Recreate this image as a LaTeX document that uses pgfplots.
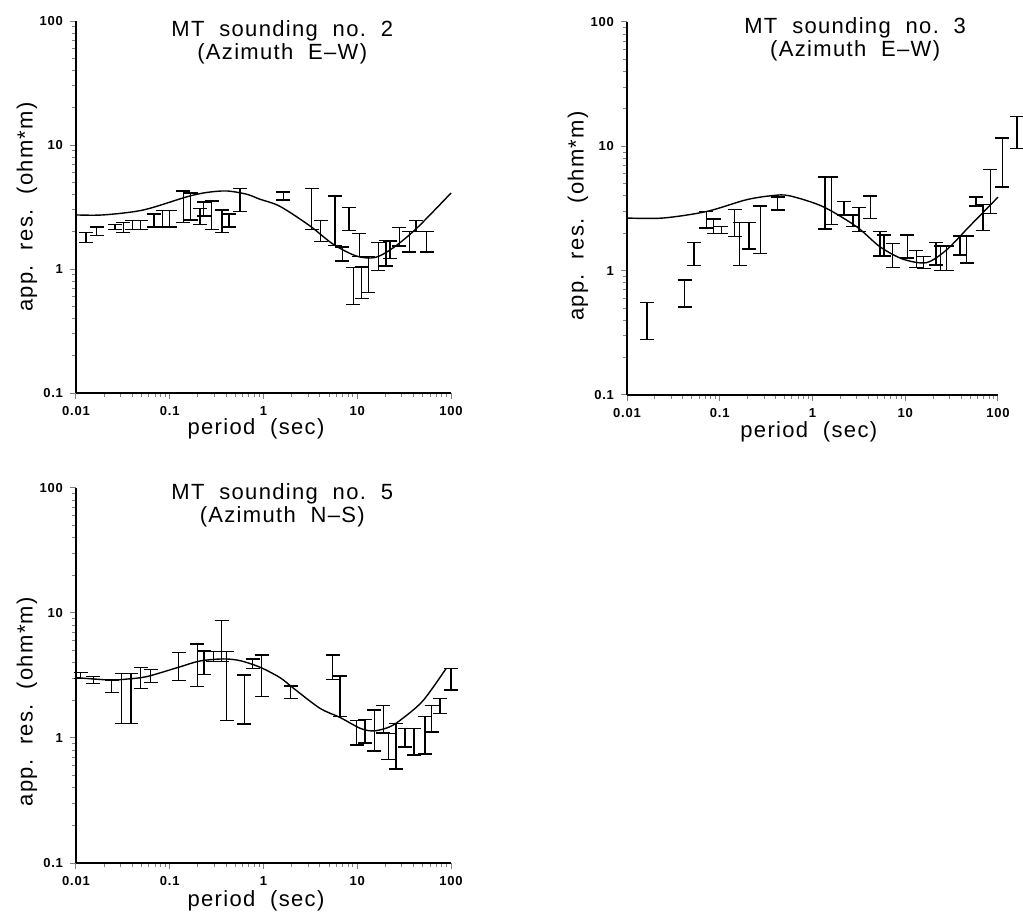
\documentclass[border=0pt]{standalone}
\usepackage{fontspec}
\setmainfont{Liberation Sans}
\newfontfamily\plotfont[LetterSpace=6]{Liberation Sans}
\usepackage{pgfplots}
\usepackage{pgfplotstable}
\pgfplotsset{compat=1.18}

% x = period, lo/hi = ends of each error bar
\pgfplotstableread{
x      lo     hi
0.0128 1.63 1.98
0.0166 1.87 2.18
0.0261 2.08 2.28
0.032  1.98 2.37
0.040  2.08 2.46
0.049  2.08 2.46
0.068  2.18 2.78
0.084  2.18 2.96
0.100  2.18 2.96
0.140  2.37 4.26
0.167  2.49 4.11
0.21   2.28 3.09
0.23   2.68 3.48
0.28   2.08 3.53
0.36   1.98 2.99
0.43   2.18 2.78
0.56   2.90 4.47
1.63   3.59 4.18
3.27   2.08 4.45
4.06   1.66 2.45
5.79   1.55 3.87
6.93   1.16 1.51
8.17   2.04 3.14
9.08   0.52 1.03
10.5   1.26 1.93
11.1   0.58 1.04
13.1   0.65 1.26
16.8   0.97 1.63
20.3   1.06 1.70
22.3   1.22 1.68
28.1   1.53 2.17
35.9   1.37 2.01
42.4   2.01 2.46
55.1   1.37 2.01
}\sndtwo

\pgfplotstableread{
x      lo     hi
0.0164 0.28 0.556
0.0419 0.51 0.84
0.0528 1.10 1.68
0.0718 2.20 2.99
0.086  2.00 2.60
0.104  2.00 2.26
0.145  1.88 3.09
0.164  1.10 2.44
0.207  1.49 2.44
0.275  1.38 3.32
0.42   3.08 3.90
1.36   2.16 5.66
1.60   2.34 5.66
2.18   2.81 3.60
2.74   2.26 2.81
3.18   2.06 3.22
4.22   2.64 4.00
5.32   1.31 2.06
5.88   1.31 1.94
7.30   1.06 1.66
10.5   1.26 1.94
13.2   1.06 1.45
15.8   1.04 1.30
21.4   1.11 1.68
24.0   1.00 1.58
27.9   1.00 1.58
38.8   1.34 1.90
45.8   1.15 1.90
57.8   3.32 3.91
69.2   2.10 3.39
83.0   2.87 6.49
111    4.71 11.7
161    9.58 17.3
}\sndthree

\pgfplotstableread{
x      lo     hi
0.0112 2.98 3.33
0.0153 2.74 3.10
0.024  2.30 2.91
0.0307 1.31 3.29
0.0386 1.30 3.29
0.049  2.50 3.68
0.0626 2.77 3.54
0.124  2.87 4.81
0.197  2.57 5.65
0.232  3.23 4.97
0.292  4.08 4.91
0.358  4.08 8.68
0.405  1.38 4.91
0.624  1.29 3.19
0.767  3.61 4.29
0.957  2.14 4.61
1.95   2.08 2.61
5.47   2.95 4.61
6.55   1.48 3.13
9.86   0.88 1.38
12.1   0.91 1.41
15.2   0.79 1.67
19.0   1.10 1.81
21.4   0.675 1.09
25.9   0.565 1.31
32.3   0.85 1.19
40.3   0.73 1.19
52.8   0.745 1.48
62.2   1.12 1.81
76.4   1.57 2.08
100    2.42 3.61
}\sndfive

\begin{document}
\begin{tikzpicture}
\useasboundingbox (0,0) rectangle (511.5pt,455.5pt);

% ---- sounding 2
\begin{axis}[scale only axis, clip=false, at={(38pt,259pt)}, anchor=south west, width=187.5pt, height=186pt,
    xmode=log, ymode=log, xmin=0.01, xmax=100, ymin=0.1, ymax=100,
    axis x line=bottom, axis y line=left, axis line style={-, line width=0.6pt},
    tick align=outside, major tick length=3pt, minor tick length=2pt,
    every tick/.append style={line width=0.5pt},
    xtick={0.01,0.1,1,10,100}, xticklabels={0.01,0.1,1,10,100},
    ytick={0.1,1,10,100}, yticklabels={0.1,1,10,100},
    every tick label/.append style={font=\plotfont\bfseries\fontsize{6.5}{7}\selectfont},
    every axis label/.append style={font=\plotfont\fontsize{11}{11}\selectfont},
    xlabel={period\ \ (sec)}, ylabel={app.\ \ res.\ \ (ohm*m)},
    every axis x label/.append style={at={(rel axis cs:0.48,-0.095)}, anchor=center},
    every axis y label/.append style={at={(rel axis cs:-0.131,0.5)}, anchor=center}]
\addplot[only marks, mark=text, text mark={}, black, error bars/.cd, y dir=both, y explicit,
    error bar style={line width=0.7pt}, error mark=-, error mark options={rotate=90, line width=0.7pt, mark size=3.5pt}]
  table[x=x, y expr=(\thisrow{lo}+\thisrow{hi})/2, y error expr=(\thisrow{hi}-\thisrow{lo})/2] {\sndtwo};
\addplot[black, line width=0.7pt, smooth, mark=none] coordinates {(0.01,2.73) (0.0196,2.73) (0.052,2.99) (0.152,3.82) (0.247,4.14) (0.405,4.26) (0.66,4.01) (0.92,3.65) (1.5,3.2) (3.12,2.23) (5.56,1.58) (9.86,1.27) (15.6,1.24) (24.4,1.49) (43.3,2.14) (100,4.1)};
\node[font=\plotfont\fontsize{11}{10}\selectfont, align=center, anchor=north] at (rel axis cs:0.55,1.02) {MT\ \ sounding\ \ no.\ \ 2\\(Azimuth\ \ E\textendash W)};
\end{axis}

% ---- sounding 3
\begin{axis}[scale only axis, clip=false, at={(313.5pt,258pt)}, anchor=south west, width=185.5pt, height=186.5pt,
    xmode=log, ymode=log, xmin=0.01, xmax=100, ymin=0.1, ymax=100,
    axis x line=bottom, axis y line=left, axis line style={-, line width=0.6pt},
    tick align=outside, major tick length=3pt, minor tick length=2pt,
    every tick/.append style={line width=0.5pt},
    xtick={0.01,0.1,1,10,100}, xticklabels={0.01,0.1,1,10,100},
    ytick={0.1,1,10,100}, yticklabels={0.1,1,10,100},
    every tick label/.append style={font=\plotfont\bfseries\fontsize{6.5}{7}\selectfont},
    every axis label/.append style={font=\plotfont\fontsize{11}{11}\selectfont},
    xlabel={period\ \ (sec)}, ylabel={app.\ \ res.\ \ (ohm*m)},
    every axis x label/.append style={at={(rel axis cs:0.49,-0.1)}, anchor=center},
    every axis y label/.append style={at={(rel axis cs:-0.132,0.48)}, anchor=center}]
\addplot[only marks, mark=text, text mark={}, black, error bars/.cd, y dir=both, y explicit,
    error bar style={line width=0.7pt}, error mark=-, error mark options={rotate=90, line width=0.7pt, mark size=3.5pt}]
  table[x=x, y expr=(\thisrow{lo}+\thisrow{hi})/2, y error expr=(\thisrow{hi}-\thisrow{lo})/2] {\sndthree};
\addplot[black, line width=0.7pt, smooth, mark=none] coordinates {(0.01,2.65) (0.0244,2.65) (0.072,2.99) (0.194,3.72) (0.376,4.02) (0.566,4.0) (1.29,3.28) (2.98,2.26) (5.32,1.56) (9.4,1.24) (16.9,1.16) (27.9,1.47) (48.9,2.26) (100,3.9)};
\node[font=\plotfont\fontsize{11}{10}\selectfont, align=center, anchor=north] at (rel axis cs:0.615,1.03) {MT\ \ sounding\ \ no.\ \ 3\\(Azimuth\ \ E\textendash W)};
\end{axis}

% ---- sounding 5
\begin{axis}[scale only axis, clip=false, at={(38pt,24pt)}, anchor=south west, width=187.5pt, height=187.5pt,
    xmode=log, ymode=log, xmin=0.01, xmax=100, ymin=0.1, ymax=100,
    axis x line=bottom, axis y line=left, axis line style={-, line width=0.6pt},
    tick align=outside, major tick length=3pt, minor tick length=2pt,
    every tick/.append style={line width=0.5pt},
    xtick={0.01,0.1,1,10,100}, xticklabels={0.01,0.1,1,10,100},
    ytick={0.1,1,10,100}, yticklabels={0.1,1,10,100},
    every tick label/.append style={font=\plotfont\bfseries\fontsize{6.5}{7}\selectfont},
    every axis label/.append style={font=\plotfont\fontsize{11}{11}\selectfont},
    xlabel={period\ \ (sec)}, ylabel={app.\ \ res.\ \ (ohm*m)},
    every axis x label/.append style={at={(rel axis cs:0.48,-0.1)}, anchor=center},
    every axis y label/.append style={at={(rel axis cs:-0.131,0.43)}, anchor=center}]
\addplot[only marks, mark=text, text mark={}, black, error bars/.cd, y dir=both, y explicit,
    error bar style={line width=0.7pt}, error mark=-, error mark options={rotate=90, line width=0.7pt, mark size=3.5pt}]
  table[x=x, y expr=(\thisrow{lo}+\thisrow{hi})/2, y error expr=(\thisrow{hi}-\thisrow{lo})/2] {\sndfive};
\addplot[black, line width=0.7pt, smooth, mark=none] coordinates {(0.01,3.04) (0.0231,2.91) (0.0347,2.96) (0.057,3.1) (0.124,3.68) (0.21,4.13) (0.37,4.29) (0.56,4.16) (0.92,3.68) (1.5,3.04) (2.09,2.5) (3.99,1.73) (6.55,1.46) (10.9,1.19) (15.2,1.14) (22.3,1.23) (30.7,1.44) (50.6,2.0) (89,3.61)};
\node[font=\plotfont\fontsize{11}{10}\selectfont, align=center, anchor=north] at (rel axis cs:0.55,1.03) {MT\ \ sounding\ \ no.\ \ 5\\(Azimuth\ \ N\textendash S)};
\end{axis}
\end{tikzpicture}
\end{document}
